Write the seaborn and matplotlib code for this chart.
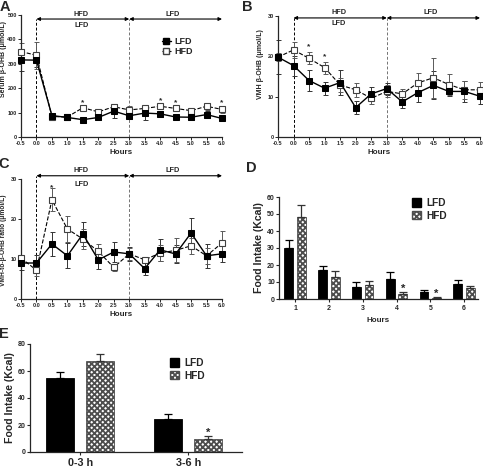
import numpy as np
import pandas as pd
import matplotlib
matplotlib.use("Agg")
import matplotlib.pyplot as plt
import seaborn as sns
from matplotlib.patches import Patch
from matplotlib.lines import Line2D

# ---------------- data ----------------
hours = [-0.5, 0.0, 0.5, 1.0, 1.5, 2.0, 2.5, 3.0, 3.5, 4.0, 4.5, 5.0, 5.5, 6.0]
hour_labels = ["-0.5", "0.0", "0.5", "1.0", "1.5", "2.0", "2.5", "3.0",
               "3.5", "4.0", "4.5", "5.0", "5.5", "6.0"]

# Panel A: serum beta-OHB (umol/L)
a_lfd = [316, 315, 88, 80, 71, 80, 106, 87, 98, 95, 82, 81, 92, 76]
a_lfd_err = [45, 30, 12, 10, 12, 12, 30, 15, 28, 12, 8, 10, 15, 6]
a_hfd = [350, 335, 84, 82, 120, 103, 124, 111, 117, 126, 117, 108, 126, 113]
a_hfd_err = [35, 55, 8, 8, 8, 8, 10, 15, 15, 10, 10, 8, 15, 15]
a_stars = [1.5, 4.0, 4.5, 6.0]

# Panel B: VMH beta-OHB (umol/L)
b_lfd = [19.8, 17.7, 14.0, 12.1, 13.5, 7.3, 10.7, 12.0, 8.7, 11.0, 12.8, 11.3, 11.3, 10.1]
b_lfd_err = [4.2, 2.5, 2.5, 1.6, 3.0, 1.6, 1.6, 1.5, 1.5, 2.2, 3.5, 1.2, 2.7, 2.0]
b_hfd = [19.8, 21.6, 19.5, 17.2, 12.9, 11.7, 9.6, 11.3, 10.7, 13.4, 14.7, 13.0, 11.7, 11.7]
b_hfd_err = [1.0, 2.0, 1.5, 1.5, 1.7, 1.7, 1.5, 1.5, 1.3, 2.5, 5.0, 2.5, 2.2, 2.0]
b_stars = [0.5, 1.0]

# Panel C: VMH-to-beta-OHB ratio
c_lfd = [9.0, 9.0, 13.75, 10.8, 16.25, 9.8, 11.75, 11.3, 7.6, 12.3, 11.25, 16.5, 10.8, 11.3]
c_lfd_err = [1.7, 2.0, 3.0, 3.1, 2.9, 2.4, 2.4, 1.7, 1.5, 2.7, 2.2, 3.75, 3.0, 2.0]
c_hfd = [10.25, 7.2, 24.8, 17.5, 15.0, 11.9, 7.9, 11.3, 9.8, 11.5, 12.15, 13.3, 10.8, 14.0]
c_hfd_err = [0.8, 1.5, 2.9, 3.3, 2.5, 1.8, 0.9, 1.5, 0.8, 2.0, 3.0, 2.0, 2.0, 3.0]
c_stars = [0.5]

# Panel D: hourly food intake (Kcal)
d_hours = ["1", "2", "3", "4", "5", "6"]
d_lfd = [30.0, 17.3, 7.3, 11.8, 3.9, 8.6]
d_lfd_err = [4.7, 2.3, 2.7, 4.2, 1.5, 2.6]
d_hfd = [48.2, 12.9, 8.2, 3.1, 0.8, 6.5]
d_hfd_err = [7.0, 3.6, 2.3, 0.8, 0.6, 1.4]
d_stars = ["4", "5"]

# Panel E: cumulative food intake (Kcal)
e_periods = ["0-3 h", "3-6 h"]
e_lfd = [55.0, 24.5]
e_lfd_err = [4.0, 3.5]
e_hfd = [67.5, 10.0]
e_hfd_err = [5.0, 1.5]
e_stars = ["3-6 h"]

diets = ["LFD", "HFD"]

# ---------------- style ----------------
sns.set_theme(style="ticks")
plt.rcParams["font.family"] = ["Liberation Sans", "DejaVu Sans"]
plt.rcParams["font.weight"] = "bold"
plt.rcParams["axes.labelweight"] = "bold"
plt.rcParams["hatch.linewidth"] = 1.3
plt.rcParams["axes.linewidth"] = 0.9

W, H = 483, 467
fig = plt.figure(figsize=(W / 100, H / 100), dpi=100)


def ax_px(l, t, r, b):
    return fig.add_axes([l / W, 1 - b / H, (r - l) / W, (b - t) / H])


axA = ax_px(21, 15, 222, 137)
axB = ax_px(278, 16, 480, 137)
axC = ax_px(21, 179, 222, 299)
axD = ax_px(279, 197, 478, 299)
axE = ax_px(30, 344, 242, 452)

HATCH = "xxxxxx"
HFD_EDGE = "0.3"


def line_panel(ax, lfd, lfd_err, hfd, hfd_err, ymax, ystep, ylabel, ylab_xy,
               ylab_fs, stars, star_off, arrow_y, top_y, bot_y, legend=False):
    ax.errorbar(hours, lfd, yerr=lfd_err, fmt="none", ecolor="0.2",
                elinewidth=0.7, capsize=1.8, capthick=0.7, zorder=2, clip_on=False)
    ax.errorbar(hours, hfd, yerr=hfd_err, fmt="none", ecolor="0.35",
                elinewidth=0.7, capsize=1.8, capthick=0.7, zorder=2, clip_on=False)
    sns.lineplot(x=hours, y=lfd, ax=ax, color="black", lw=1.0, marker="s",
                 markersize=3.8, markeredgecolor="black", errorbar=None,
                 zorder=4, clip_on=False)
    sns.lineplot(x=hours, y=hfd, ax=ax, color="black", lw=0.8, linestyle="--",
                 marker="s", markersize=3.8, markerfacecolor="white",
                 markeredgecolor="0.25", markeredgewidth=0.8, errorbar=None,
                 zorder=3, clip_on=False)
    ax.set_xlim(-0.5, 6.0)
    ax.set_ylim(0, ymax)
    ax.set_xticks(hours)
    ax.set_xticklabels(hour_labels)
    ax.set_yticks(np.arange(0, ymax + ystep / 2, ystep))
    ax.tick_params(labelsize=4.0, length=2, width=0.7, pad=1)
    for lab in ax.get_xticklabels() + ax.get_yticklabels():
        lab.set_fontweight("bold")
    ax.set_xlabel("Hours", fontsize=5.8, labelpad=2)
    ax.set_ylabel(ylabel, fontsize=ylab_fs)
    ax.yaxis.set_label_coords(*ylab_xy)
    sns.despine(ax=ax)
    # vertical diet-switch lines
    ax.axvline(0.0, ymin=0, ymax=arrow_y, ls="--", color="black", lw=0.7,
               dashes=(3, 2), clip_on=False, zorder=1)
    ax.axvline(3.0, ymin=0, ymax=arrow_y, ls="--", color="0.45", lw=0.7,
               dashes=(3, 2), clip_on=False, zorder=1)
    # arrows
    for (x0, x1) in [(0.0, 3.0), (3.0, 6.0)]:
        ax.annotate("", xy=(x1, arrow_y), xytext=(x0, arrow_y),
                    xycoords=("data", "axes fraction"),
                    textcoords=("data", "axes fraction"),
                    arrowprops=dict(arrowstyle="<|-|>", color="black", lw=0.8,
                                    mutation_scale=5, shrinkA=0, shrinkB=0),
                    annotation_clip=False)
    tkw = dict(xycoords=("data", "axes fraction"), ha="center", va="center",
               fontsize=5.3, fontweight="bold", annotation_clip=False)
    ax.annotate("HFD", xy=(1.45, top_y), **tkw)
    ax.annotate("LFD", xy=(1.45, bot_y), **tkw)
    ax.annotate("LFD", xy=(4.4, top_y), **tkw)
    # significance stars
    for s in stars:
        i = hours.index(s)
        ax.text(s, hfd[i] + hfd_err[i] + star_off, "*", ha="center",
                va="center", fontsize=6, fontweight="bold")
    if legend:
        handles = [
            Line2D([], [], color="black", lw=1.0, marker="s", markersize=3.8),
            Line2D([], [], color="black", lw=0.8, ls="--", marker="s",
                   markersize=3.8, markerfacecolor="white",
                   markeredgecolor="0.25"),
        ]
        ax.legend(handles, diets, loc="upper left", bbox_to_anchor=(0.7, 0.82),
                  frameon=False, handlelength=1.0,
                  handletextpad=0.4, labelspacing=0.15, borderpad=0,
                  borderaxespad=0, prop=dict(weight="bold", size=6.5))


line_panel(axA, a_lfd, a_lfd_err, a_hfd, a_hfd_err, 500, 100,
           "Serum β-OHB (μmol/L)", (-0.072, 0.64), 5.0, a_stars, 14,
           0.967, 1.008, 0.918, legend=True)
line_panel(axB, b_lfd, b_lfd_err, b_hfd, b_hfd_err, 30, 10,
           "VMH β-OHB (μmol/L)", (-0.068, 0.60), 5.0, b_stars, 1.3,
           0.984, 1.027, 0.937)
line_panel(axC, c_lfd, c_lfd_err, c_hfd, c_hfd_err, 30, 10,
           "VMH-to-β-OHB ratio (μmol/L)", (-0.068, 0.49), 4.8, c_stars, 0.0,
           1.027, 1.075, 0.95)


def bar_panel(ax, cats, lfd, lfd_err, hfd, hfd_err, ymax, ystep, xlim, stars,
              star_off, xlabel, xtick_fs, legend_anchor):
    df = pd.DataFrame({
        "cat": cats + cats,
        "val": lfd + hfd,
        "Diet": ["LFD"] * len(cats) + ["HFD"] * len(cats),
    })
    sns.barplot(data=df, x="cat", y="val", hue="Diet", hue_order=diets,
                order=cats, palette={"LFD": "black", "HFD": "white"},
                width=0.75, gap=0.31, errorbar=None, legend=False, ax=ax,
                saturation=1)
    for bar in ax.containers[0]:
        bar.set_edgecolor("black")
        bar.set_linewidth(0.6)
    for bar in ax.containers[1]:
        bar.set_hatch(HATCH)
        bar.set_edgecolor(HFD_EDGE)
        bar.set_linewidth(0.6)
    for cont, errs, col in [(ax.containers[0], lfd_err, "black"),
                            (ax.containers[1], hfd_err, "0.2")]:
        xs = [b.get_x() + b.get_width() / 2 for b in cont]
        ys = [b.get_height() for b in cont]
        ax.errorbar(xs, ys, yerr=[np.zeros(len(errs)), errs], fmt="none",
                    ecolor=col, elinewidth=0.9, capsize=3.2, capthick=0.9,
                    zorder=1)
        if cont is ax.containers[1]:
            for c, x, y, e in zip(cats, xs, ys, errs):
                if c in stars:
                    ax.text(x, y + e + star_off, "*", ha="center", va="center",
                            fontsize=8, fontweight="bold")
    ax.set_xlim(*xlim)
    ax.set_ylim(0, ymax)
    ax.set_yticks(np.arange(0, ymax + ystep / 2, ystep))
    ax.tick_params(axis="y", labelsize=5.0, length=2, width=0.8, pad=1)
    ax.tick_params(axis="x", labelsize=xtick_fs, length=2, width=0.8, pad=2)
    for lab in ax.get_xticklabels() + ax.get_yticklabels():
        lab.set_fontweight("bold")
    ax.set_xlabel(xlabel, fontsize=5.8)
    ax.set_ylabel("Food Intake (Kcal)", fontsize=7.6, labelpad=2)
    sns.despine(ax=ax)
    handles = [Patch(facecolor="black", edgecolor="black"),
               Patch(facecolor="white", edgecolor=HFD_EDGE, hatch=HATCH)]
    ax.legend(handles, diets, loc="upper left", bbox_to_anchor=legend_anchor,
              frameon=False, handlelength=0.9, handleheight=0.9,
              handletextpad=0.5, labelspacing=0.25, borderpad=0,
              borderaxespad=0, prop=dict(weight="bold", size=7.3))


bar_panel(axD, d_hours, d_lfd, d_lfd_err, d_hfd, d_hfd_err, 60, 10,
          (-0.476, 5.41), d_stars, 1.8, "Hours", 5.0, (0.67, 0.99))
bar_panel(axE, e_periods, e_lfd, e_lfd_err, e_hfd, e_hfd_err, 80, 20,
          (-0.465, 1.498), e_stars, 2.5, "", 7.8, (0.66, 0.87))

# panel letters
for letter, x, y in [("A", 5, 7), ("B", 247, 7), ("C", 4, 164),
                     ("D", 251, 168), ("E", 4, 334)]:
    fig.text(x / W, 1 - y / H, letter, fontsize=10.5, fontweight="bold",
             ha="center", va="center")

fig.savefig("out.png", dpi=100)
